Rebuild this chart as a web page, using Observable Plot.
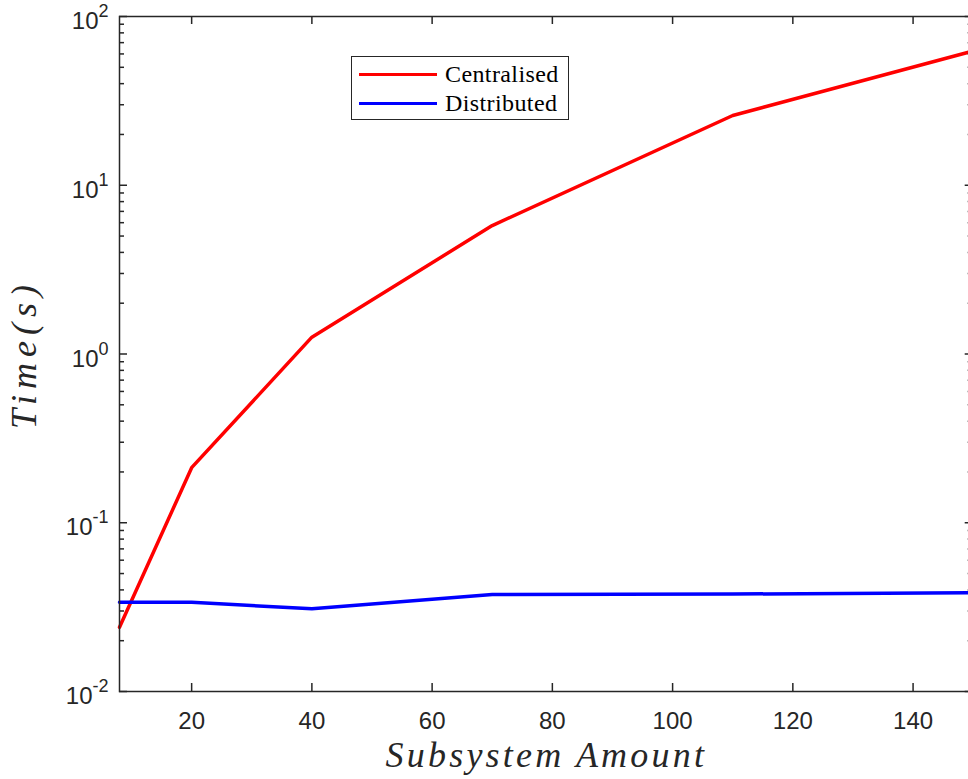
<!DOCTYPE html>
<html>
<head>
<meta charset="utf-8">
<script src="https://cdn.jsdelivr.net/npm/d3@7"></script>
<script src="https://cdn.jsdelivr.net/npm/@observablehq/plot@0.6"></script>
<style>
  html, body { margin: 0; padding: 0; background: #fff; overflow: hidden; }
  #wrap { position: relative; width: 968px; height: 779px; }
  #legend {
    position: absolute; left: 351px; top: 56px; width: 216px; height: 62px;
    border: 1px solid #262626; background: #fff; box-sizing: content-box;
    font-family: "Liberation Serif", "Times New Roman", serif; font-size: 24px; color: #000;
  }
  .row { position: absolute; left: 0; height: 28px; display: flex; align-items: center; }
  .swatch { display: inline-block; width: 78px; height: 3px; margin-left: 7px; margin-right: 8px; }
  .lbl { letter-spacing: 0.4px; }
</style>
</head>
<body>
<div id="wrap"></div>
<script>
// ---- data ----
const subsystems   = [8, 20, 40, 70, 110, 150];
const centralised  = [0.024, 0.212, 1.258, 5.77, 25.9, 62.5];
const distributed  = [0.0338, 0.0338, 0.0309, 0.0376, 0.0378, 0.0385];
const seriesNames  = ["Centralised", "Distributed"];
const seriesColors = ["#ff0000", "#0000ff"];
const xTicks       = [20, 40, 60, 80, 100, 120, 140];
const yTicks       = [0.01, 0.1, 1, 10, 100];
const yExponents   = ["-2", "-1", "0", "1", "2"];
const xLabel = "Subsystem Amount";
const yLabel = "Time(s)";

const yMinor = [];
for (const d of [0.01, 0.1, 1, 10]) for (let k = 2; k <= 9; k++) yMinor.push(+(d * k).toPrecision(3));

const rows = [];
subsystems.forEach((x, i) => rows.push({x, y: centralised[i], s: seriesNames[0]}));
subsystems.forEach((x, i) => rows.push({x, y: distributed[i], s: seriesNames[1]}));

const W = 968, H = 779, mT = 16, mB = 88, mL = 119, mR = -4.7;
const frameW = W - mL - mR, frameH = H - mT - mB;
const majorLen = 8, minorLen = 5;

const axisColor = "#262626";
const tickFont = "'Liberation Sans', Arial, sans-serif";
const titleFont = "'Liberation Serif', 'Times New Roman', serif";
const tickStyle = {stroke: axisColor, strokeWidth: 1.5};

const chart = Plot.plot({
  width: W,
  height: H,
  marginTop: mT,
  marginBottom: mB,
  marginLeft: mL,
  marginRight: mR,
  style: {background: "#fff", overflow: "visible"},
  x: {domain: [8, 150], axis: null},
  y: {type: "log", domain: [0.01, 100], axis: null},
  color: {domain: seriesNames, range: seriesColors},
  marks: [
    Plot.line(rows, {x: "x", y: "y", z: "s", stroke: "s", strokeWidth: 3.5, strokeLinejoin: "round"}),
    // ticks (inward)
    Plot.tickX(xTicks, {x: d => d, insetTop: frameH - majorLen, ...tickStyle}),
    Plot.tickX(xTicks, {x: d => d, insetBottom: frameH - majorLen, ...tickStyle}),
    Plot.tickY(yTicks, {y: d => d, insetRight: frameW - majorLen, ...tickStyle}),
    Plot.tickY(yMinor, {y: d => d, insetRight: frameW - minorLen, ...tickStyle}),
    Plot.tickY(yTicks, {y: d => d, insetLeft: frameW - majorLen, ...tickStyle}),
    Plot.tickY(yMinor, {y: d => d, insetLeft: frameW - minorLen, ...tickStyle}),
    Plot.frame({stroke: axisColor, strokeWidth: 1.5}),
    // tick labels
    Plot.text(xTicks, {x: d => d, frameAnchor: "bottom", lineAnchor: "top", dy: 20, text: d => String(d),
      fontSize: 24, fontFamily: tickFont, fill: axisColor}),
    Plot.text(yTicks, {y: d => d, frameAnchor: "left", textAnchor: "end", dx: -11, dy: 5,
      text: d => "10^" + yExponents[yTicks.indexOf(d)], fontSize: 24, fontFamily: tickFont, fill: axisColor,
      className: "ylabels"}),
    // axis titles
    Plot.text([xLabel], {frameAnchor: "bottom", dy: 75, text: d => d, fontSize: 36,
      fontFamily: titleFont, fontStyle: "italic", fill: axisColor, className: "xtitle"}),
    Plot.text([yLabel], {frameAnchor: "left", textAnchor: "middle", dx: -95, rotate: -90, text: d => d, fontSize: 36,
      fontFamily: titleFont, fontStyle: "italic", fill: axisColor, className: "ytitle"})
  ]
});

// superscript exponents in y tick labels
d3.select(chart).selectAll(".ylabels text").each(function() {
  const t = this.textContent;
  if (t.startsWith("10^")) {
    const exp = t.slice(3);
    const sel = d3.select(this);
    sel.text(null);
    sel.append("tspan").text("10");
    sel.append("tspan").attr("dy", "-12").attr("font-size", 18).text(exp);
  }
});
d3.select(chart).selectAll(".xtitle text").style("letter-spacing", "3.2px");
d3.select(chart).selectAll(".ytitle text").style("letter-spacing", "6px");

const wrap = document.getElementById("wrap");
wrap.appendChild(chart);

// legend
const legend = document.createElement("div");
legend.id = "legend";
seriesNames.forEach((name, i) => {
  const row = document.createElement("div");
  row.className = "row";
  row.style.top = (i === 0 ? 3 : 32) + "px";
  const sw = document.createElement("span");
  sw.className = "swatch";
  sw.style.background = seriesColors[i];
  const lb = document.createElement("span");
  lb.className = "lbl";
  lb.textContent = name;
  row.appendChild(sw);
  row.appendChild(lb);
  legend.appendChild(row);
});
wrap.appendChild(legend);
</script>
</body>
</html>
